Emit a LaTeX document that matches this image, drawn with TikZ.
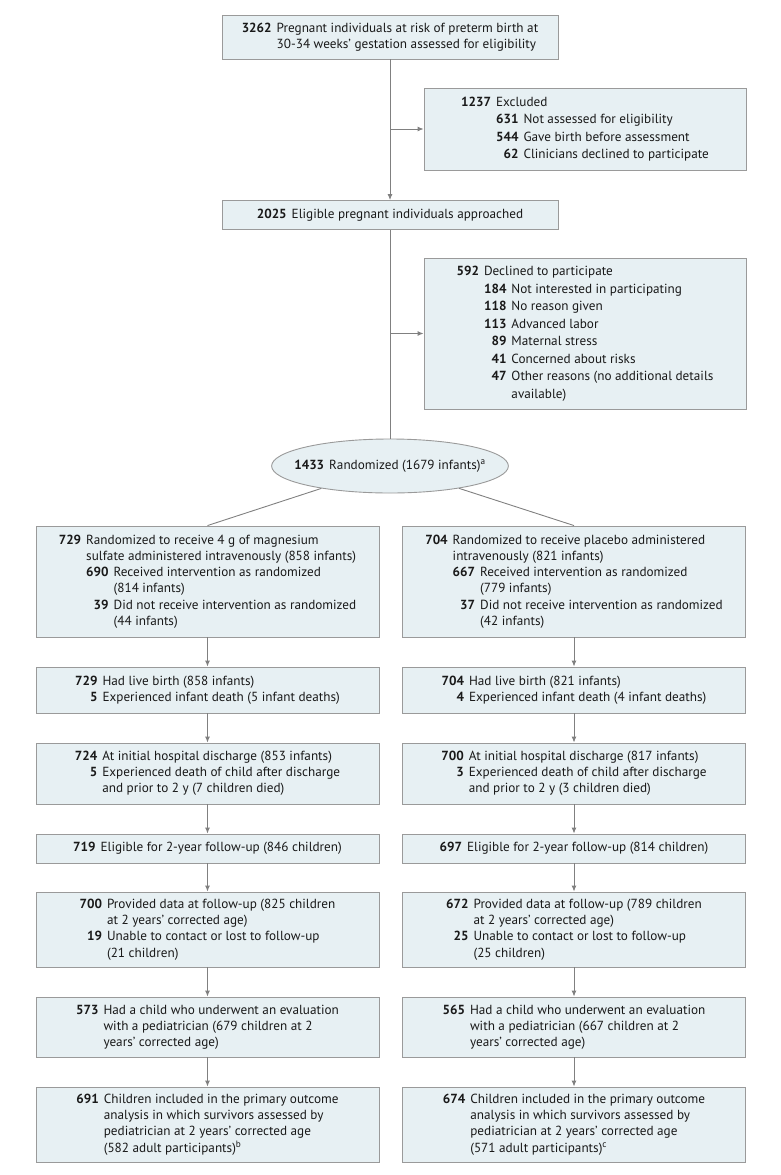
\documentclass[tikz,border=0pt]{standalone}
\usepackage{fontspec,array}
\setmainfont{PT Sans}
\usetikzlibrary{arrows.meta,shapes.geometric}
\definecolor{boxfill}{HTML}{E7F0F3}
\definecolor{boxline}{HTML}{9A9A9A}
\definecolor{linkgray}{HTML}{808080}
\setlength{\tabcolsep}{0pt}
\newcolumntype{N}{r@{\hspace{5pt}}}
\newcommand{\nb}[1]{\textbf{#1}}

\begin{document}
\begin{tikzpicture}[x=1pt,y=-1pt,font=\fontsize{13.2}{16.2}\selectfont,
  box/.style={draw=boxline,fill=boxfill,line width=.9pt,inner sep=0pt,text=black!90},
  arr/.style={draw=linkgray,line width=.9pt,-{Latex[length=6pt,width=5pt]}},
  lnk/.style={draw=linkgray,line width=.9pt}]
\useasboundingbox (0,0) rectangle (780,1175);
\node[box,minimum width=336pt,minimum height=44pt](screen)at(390,37){\begin{tabular}{Nl}\nb{3262}&Pregnant individuals at risk of preterm birth at\\&30-34 weeks' gestation assessed for eligibility\end{tabular}};
\node[box,minimum width=322pt,minimum height=82pt](excl)at(585,129){\renewcommand{\arraystretch}{1.08}\begin{tabular}{NNl}\nb{1237}&\multicolumn{2}{l}{Excluded}\\&\nb{631}&Not assessed for eligibility\\&\nb{544}&Gave birth before assessment\\&\nb{62}&Clinicians declined to participate\end{tabular}};
\node[box,minimum width=336pt,minimum height=29pt](elig)at(390,215){\begin{tabular}{Nl}\nb{2025}&Eligible pregnant individuals approached\end{tabular}};
\node[box,minimum width=322pt,minimum height=151pt](decl)at(585,333.5){\renewcommand{\arraystretch}{1.08}\begin{tabular}{NNl}\nb{592}&\multicolumn{2}{l}{Declined to participate}\\&\nb{184}&Not interested in participating\\&\nb{118}&No reason given\\&\nb{113}&Advanced labor\\&\nb{89}&Maternal stress\\&\nb{41}&Concerned about risks\\&\nb{47}&Other reasons (no additional details\\&&available)\end{tabular}};
\node[box,ellipse,inner xsep=-12pt,minimum width=236pt,minimum height=54pt](rand)at(390,466){\nb{1433}\hspace{5pt}Randomized (1679 infants)\textsuperscript{a}};
\begin{scope}[every node/.append style={minimum width=343pt}]
\node[box,minimum height=111pt](armL)at(207.5,581.5){\begin{tabular}{NNl}\nb{729}&\multicolumn{2}{l}{Randomized to receive 4 g of magnesium}\\&\multicolumn{2}{l}{sulfate administered intravenously (858 infants)}\\&\nb{690}&Received intervention as randomized\\&&(814 infants)\\&\nb{39}&Did not receive intervention as randomized\\&&(44 infants)\end{tabular}};
\node[box,minimum height=46pt](liveL)at(207.5,690){\begin{tabular}{Nl}\nb{729}&Had live birth (858 infants)\\\nb{5}&Experienced infant death (5 infant deaths)\end{tabular}};
\node[box,minimum height=61pt](discL)at(207.5,773.5){\begin{tabular}{Nl}\nb{724}&At initial hospital discharge (853 infants)\\\nb{5}&Experienced death of child after discharge\\&and prior to 2 y (7 children died)\end{tabular}};
\node[box,minimum height=29pt](fupL)at(207.5,848.5){\begin{tabular}{Nl}\nb{719}&Eligible for 2-year follow-up (846 children)\end{tabular}};
\node[box,minimum height=75pt](dataL)at(207.5,929.5){\begin{tabular}{Nl}\nb{700}&Provided data at follow-up (825 children\\&at 2 years' corrected age)\\\nb{19}&Unable to contact or lost to follow-up\\&(21 children)\end{tabular}};
\node[box,minimum height=60pt](pedL)at(207.5,1027){\begin{tabular}{Nl}\nb{573}&Had a child who underwent an evaluation\\&with a pediatrician (679 children at 2\\&years' corrected age)\end{tabular}};
\node[box,minimum height=75pt](anaL)at(207.5,1124.5){\begin{tabular}{Nl}\nb{691}&Children included in the primary outcome\\&analysis in which survivors assessed by\\&pediatrician at 2 years' corrected age\\&(582 adult participants)\textsuperscript{b}\end{tabular}};
\node[box,minimum height=111pt](armR)at(574,581.5){\begin{tabular}{NNl}\nb{704}&\multicolumn{2}{l}{Randomized to receive placebo administered}\\&\multicolumn{2}{l}{intravenously (821 infants)}\\&\nb{667}&Received intervention as randomized\\&&(779 infants)\\&\nb{37}&Did not receive intervention as randomized\\&&(42 infants)\end{tabular}};
\node[box,minimum height=46pt](liveR)at(574,690){\begin{tabular}{Nl}\nb{704}&Had live birth (821 infants)\\\nb{4}&Experienced infant death (4 infant deaths)\end{tabular}};
\node[box,minimum height=61pt](discR)at(574,773.5){\begin{tabular}{Nl}\nb{700}&At initial hospital discharge (817 infants)\\\nb{3}&Experienced death of child after discharge\\&and prior to 2 y (3 children died)\end{tabular}};
\node[box,minimum height=29pt](fupR)at(574,848.5){\begin{tabular}{Nl}\nb{697}&Eligible for 2-year follow-up (814 children)\end{tabular}};
\node[box,minimum height=75pt](dataR)at(574,929.5){\begin{tabular}{Nl}\nb{672}&Provided data at follow-up (789 children\\&at 2 years' corrected age)\\\nb{25}&Unable to contact or lost to follow-up\\&(25 children)\end{tabular}};
\node[box,minimum height=60pt](pedR)at(574,1027){\begin{tabular}{Nl}\nb{565}&Had a child who underwent an evaluation\\&with a pediatrician (667 children at 2\\&years' corrected age)\end{tabular}};
\node[box,minimum height=75pt](anaR)at(574,1124.5){\begin{tabular}{Nl}\nb{674}&Children included in the primary outcome\\&analysis in which survivors assessed by\\&pediatrician at 2 years' corrected age\\&(571 adult participants)\textsuperscript{c}\end{tabular}};
\end{scope}
\draw[arr](screen)--(elig);\draw[arr](screen.south|-excl.west)--(excl.west);
\draw[lnk](elig)--(rand);\draw[arr](elig.south|-decl.west)--(decl.west);
\draw[lnk](rand)--(armL.north);\draw[lnk](rand)--(armR.north);
\foreach \s in {L,R}{\draw[arr](arm\s)--(live\s);\draw[arr](live\s)--(disc\s);\draw[arr](disc\s)--(fup\s);\draw[arr](fup\s)--(data\s);\draw[arr](data\s)--(ped\s);\draw[arr](ped\s)--(ana\s);}
\end{tikzpicture}
\end{document}
